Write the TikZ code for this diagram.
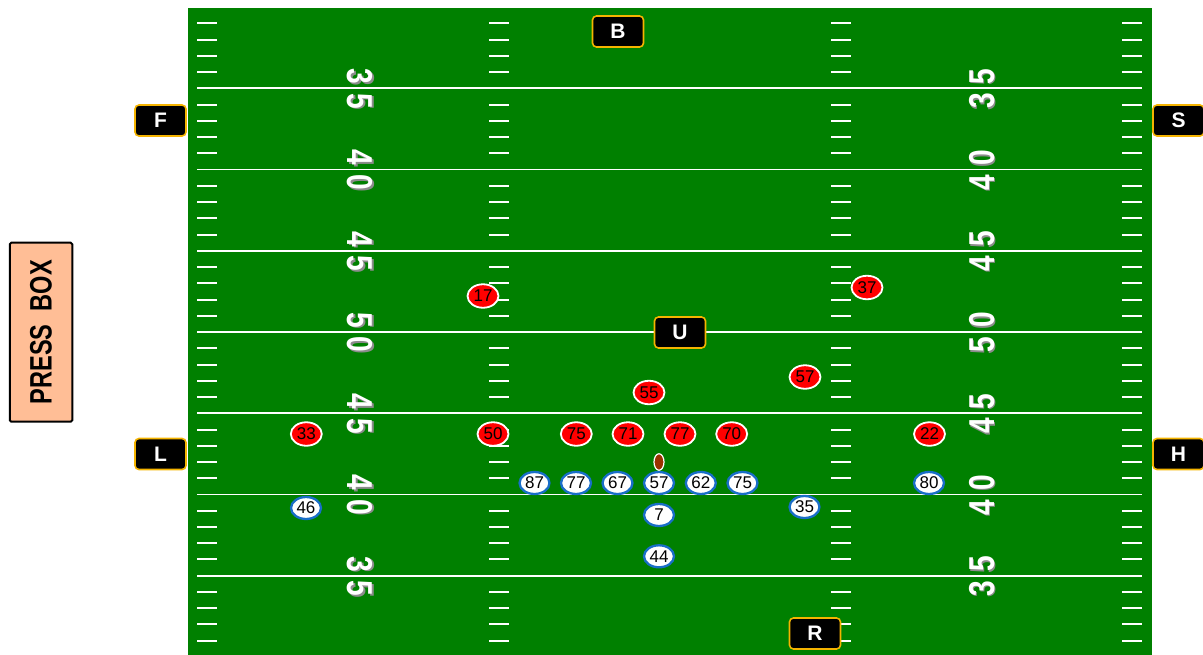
\documentclass[tikz,border=0pt]{standalone}
\usepackage{fontspec}
\setmainfont{Liberation Sans}
\setsansfont{Liberation Sans}
\usetikzlibrary{shapes.geometric}
\definecolor{turf}{RGB}{0,128,0}
\definecolor{gold}{RGB}{245,180,0}
\definecolor{offblue}{RGB}{25,110,200}
\definecolor{pressfill}{RGB}{255,190,150}
\definecolor{leather}{RGB}{153,51,0}
\newcommand\yardpair[2]{\scalebox{0.78}[1]{#1}\hspace{9pt}\scalebox{0.78}[1]{#2}}
\begin{document}
\begin{tikzpicture}[font=\sffamily,x=1pt,y=-1pt]
\tikzset{yard/.style={draw=white,line width=1.9pt}, hash/.style={draw=white,line width=2pt}, yardnum/.style={font=\bfseries\fontsize{36}{36}\selectfont,text=white,inner sep=0pt}, numshadow/.style={yardnum,text=black!45}, official/.style={rounded corners=4pt,fill=black,draw=gold,line width=1.6pt,text=white,font=\bfseries\fontsize{21}{21}\selectfont,minimum width=51pt,minimum height=31pt,inner sep=0pt}, defense/.style={ellipse,fill=red,draw=white,line width=1.8pt,minimum width=31pt,minimum height=23.5pt,inner sep=0pt,font=\fontsize{17}{17}\selectfont}, offense/.style={ellipse,fill=white,draw=offblue,line width=2.3pt,minimum width=30pt,minimum height=22pt,inner sep=0pt,font=\fontsize{17}{17}\selectfont}}
\useasboundingbox (0,0) rectangle (1203,654);
% Field surface, yard lines and hash marks.
\fill[turf] (188,8) rectangle (1152,660);
\foreach \i in {0,...,6}{\draw[yard] (197,{88.3+81.23*\i}) -- (1142,{88.3+81.23*\i});}
\foreach \a/\b in {197/217,489/509,831/851,1122/1142}{\foreach \k in {0,...,38}{\pgfmathtruncatemacro\r{mod(\k,5)}\ifnum\r<4 \draw[hash] (\a,{23.34+16.247*\k}) -- (\b,{23.34+16.247*\k});\fi}}
% Yard numbers on both sides, read along the sideline.
\foreach \i/\a/\b in {0/3/5,1/4/0,2/4/5,3/5/0,4/4/5,5/4/0,6/3/5}{\node[numshadow,rotate=-90] (lsh\i) at (361.5,{90.3+81.23*\i}) {\yardpair{\a}{\b}}; \node[yardnum,rotate=-90] (lnum\i) at (360,{88.8+81.23*\i}) {\yardpair{\a}{\b}}; \node[numshadow,rotate=90] (rsh\i) at (983.5,{90.3+81.23*\i}) {\yardpair{\a}{\b}}; \node[yardnum,rotate=90] (rnum\i) at (982,{88.8+81.23*\i}) {\yardpair{\a}{\b}};}
% Officials.
\foreach \x/\y/\t in {618/31.5/B,680/332.5/U,815/633.5/R,160.5/120.5/F,1178.5/120.5/S,160.5/454/L,1178.5/454/H}{\node[official] (\t) at (\x,\y) {\t};}
\node[rounded corners=1.5pt,draw=black,line width=2pt,fill=pressfill,rotate=90,minimum width=179pt,minimum height=62.5pt,font=\bfseries\fontsize{31}{31}\selectfont] (press) at (41,332.2) {\scalebox{0.76}[1]{PRESS\ \ BOX}};
% Defense in red, offense in white.
\foreach \x/\y/\t in {483/296/17,867/287.5/37,805/377/57,649/392.5/55,306.3/434/33,493/434/50,576.3/434/75,628/434/71,680/434/77,731.7/434/70,929.5/434/22}{\node[defense] (d\t) at (\x,\y) {\t};}
\foreach \x/\y/\t in {534.5/483/87,576/483/77,617.5/483/67,659/483/57,700.8/483/62,742.5/483/75,929/483/80,306/508/46,804.5/507/35,659/515/7,659/556.3/44}{\node[offense] (o\t) at (\x,\y) {\t};}
\node[ellipse,fill=leather,draw=white,line width=1.2pt,minimum width=10pt,minimum height=16.5pt,inner sep=0pt] (ball) at (659,462) {};
\end{tikzpicture}
\end{document}
